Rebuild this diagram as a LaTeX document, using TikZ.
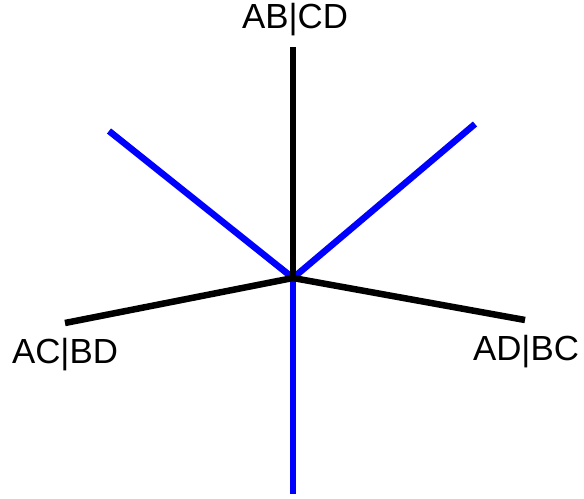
\documentclass[tikz,border=0pt]{standalone}
\usepackage{fontspec}
\setmainfont{Liberation Sans}
\usetikzlibrary{positioning}

\begin{document}
\begin{tikzpicture}[x=1bp,y=-1bp,node distance=2bp]
  \tikzstyle{branch}=[line width=6.5bp]
  \tikzstyle{split}=[font=\fontsize{35}{37}\selectfont,inner sep=0pt]
  \useasboundingbox (0,0) rectangle (584,499);
  \coordinate (ctr) at (293,278);
  \coordinate (tab) at (293,47);
  \coordinate (tac) at (65,323);
  \coordinate (tad) at (525,320);
  \coordinate (tb1) at (109,131);
  \coordinate (tb2) at (475,124);
  \coordinate (tb3) at (293,494);
  \node[split] (abcd) at (295,20) {AB|CD};
  \node[split] (acbd) at (65,355) {AC|BD};
  \node[split] (adbc) at (526,352) {AD|BC};
  \draw[branch,blue] (ctr) -- (tb1);
  \draw[branch,blue] (ctr) -- (tb2);
  \draw[branch,blue] (ctr) -- (tb3);
  \draw[branch] (ctr) -- (tab);
  \draw[branch] (ctr) -- (tac);
  \draw[branch] (ctr) -- (tad);
\end{tikzpicture}
\end{document}
